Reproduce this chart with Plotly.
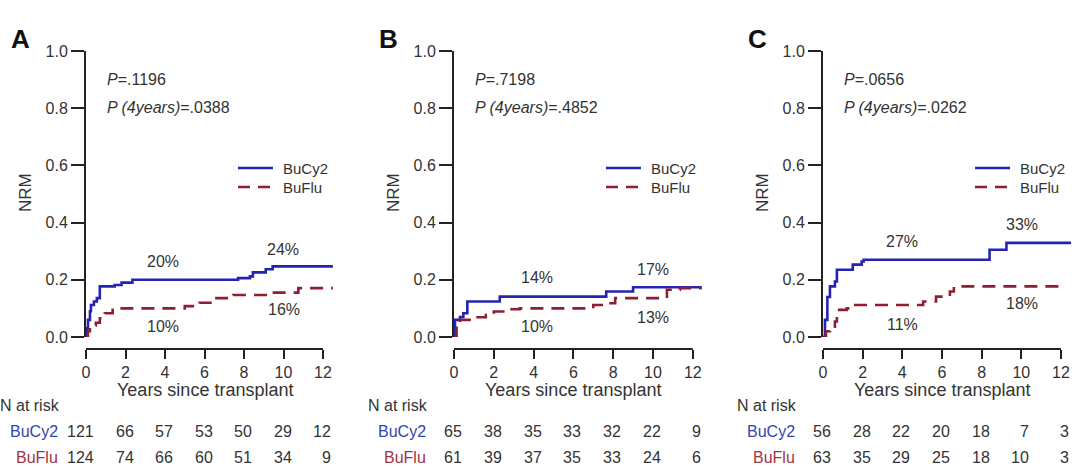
import plotly.graph_objects as go

W, H = 1080, 467
FONT = "Liberation Sans, Arial, sans-serif"
TXT = "#333333"
BLUE = "#2424b4"
RED = "#8c1f30"
BLUE_T = "#3344b0"
RED_T = "#a03444"

# ---------------- data ----------------
panels = ["A", "B", "C"]
groups = ["BuCy2", "BuFlu"]

# Panel A
a_bucy2_t = [0, 0.05, 0.1, 0.2, 0.25, 0.4, 0.55, 0.7, 1.45, 1.8, 2.35, 7.7, 8.3, 8.45, 9.1, 9.45, 12.5]
a_bucy2_y = [0, 0.03, 0.06, 0.09, 0.112, 0.124, 0.136, 0.177, 0.182, 0.19, 0.2, 0.206, 0.212, 0.226, 0.237, 0.247, 0.247]
a_buflu_t = [0, 0.1, 0.2, 0.5, 0.7, 0.95, 1.35, 1.7, 5.0, 5.75, 6.45, 7.45, 9.1, 10.75, 12.5]
a_buflu_y = [0, 0.02, 0.04, 0.05, 0.065, 0.083, 0.095, 0.10, 0.108, 0.12, 0.136, 0.147, 0.155, 0.171, 0.171]

# Panel B
b_bucy2_t = [0, 0.05, 0.3, 0.47, 0.67, 2.3, 7.65, 9.0, 12.45]
b_bucy2_y = [0, 0.06, 0.07, 0.083, 0.124, 0.141, 0.159, 0.174, 0.174]
b_buflu_t = [0, 0.13, 0.3, 1.0, 1.6, 2.0, 2.8, 3.3, 7.0, 7.65, 8.1, 10.7, 11.35, 12.45]
b_buflu_y = [0, 0.048, 0.06, 0.069, 0.077, 0.089, 0.097, 0.10, 0.112, 0.118, 0.136, 0.165, 0.171, 0.171]

# Panel C
c_bucy2_t = [0, 0.1, 0.22, 0.35, 0.6, 0.7, 1.5, 1.95, 2.05, 8.4, 9.25, 12.55]
c_bucy2_y = [0, 0.06, 0.14, 0.177, 0.194, 0.235, 0.253, 0.264, 0.27, 0.305, 0.329, 0.329]
c_buflu_t = [0, 0.15, 0.35, 0.6, 0.7, 1.2, 1.5, 5.05, 5.7, 6.4, 6.6, 12.1]
c_buflu_y = [0, 0.02, 0.036, 0.054, 0.095, 0.10, 0.112, 0.124, 0.141, 0.159, 0.177, 0.177]

p_overall = [".1196", ".7198", ".0656"]
p_4years = [".0388", ".4852", ".0262"]

# percent labels: (text, x years, y value)
a_pct = [("20%", 3.9, 0.263), ("24%", 9.97, 0.305), ("16%", 10.0, 0.095), ("10%", 3.9, 0.035)]
b_pct = [("14%", 4.17, 0.207), ("17%", 10.0, 0.235), ("13%", 10.0, 0.067), ("10%", 4.17, 0.035)]
c_pct = [("27%", 3.98, 0.333), ("33%", 10.03, 0.393), ("18%", 10.03, 0.116), ("11%", 4.0, 0.042)]

risk_times = [0, 2, 4, 6, 8, 10, 12]
a_risk_bucy2 = [121, 66, 57, 53, 50, 29, 12]
a_risk_buflu = [124, 74, 66, 60, 51, 34, 9]
b_risk_bucy2 = [65, 38, 35, 33, 32, 22, 9]
b_risk_buflu = [61, 39, 37, 35, 33, 24, 6]
c_risk_bucy2 = [56, 28, 22, 20, 18, 7, 3]
c_risk_buflu = [63, 35, 29, 25, 18, 10, 3]

x_ticks = [0, 2, 4, 6, 8, 10, 12]
y_ticks = [0, 0.2, 0.4, 0.6, 0.8, 1.0]
y_ticktext = ["0.0", "0.2", "0.4", "0.6", "0.8", "1.0"]

curves = [
    ((a_bucy2_t, a_bucy2_y), (a_buflu_t, a_buflu_y)),
    ((b_bucy2_t, b_bucy2_y), (b_buflu_t, b_buflu_y)),
    ((c_bucy2_t, c_bucy2_y), (c_buflu_t, c_buflu_y)),
]
pcts = [a_pct, b_pct, c_pct]
risks = [(a_risk_bucy2, a_risk_buflu), (b_risk_bucy2, b_risk_buflu), (c_risk_bucy2, c_risk_buflu)]

# ---------------- layout geometry (pixels) ----------------
axis_x0 = [86, 454, 823]        # pixel x of y-axis
px_per_year = [19.75, 19.9, 19.83]
x_max = 12.5
y_top_px, y_bot_px = 51, 337
xaxis_px = 349


def fx(px):
    return px / W


def fy(py):
    return 1 - py / H


fig = go.Figure()
layout = dict(
    template="none",
    width=W, height=H, autosize=False,
    margin=dict(l=0, r=0, t=0, b=0, pad=0, autoexpand=False),
    paper_bgcolor="white", plot_bgcolor="white",
    showlegend=False, font=dict(family=FONT, color=TXT, size=16),
)
annotations = []
shapes = []

for i in range(3):
    n = "" if i == 0 else str(i + 1)
    xa, ya = "x" + n, "y" + n
    x0 = axis_x0[i]
    x1 = x0 + x_max * px_per_year[i]
    layout["xaxis" + n] = dict(
        domain=[fx(x0), fx(x1)], range=[0, x_max], anchor="free", position=fy(xaxis_px),
        showline=False, showgrid=False, zeroline=False, automargin=False,
        ticks="outside", ticklen=9, tickwidth=2, tickcolor="#222",
        tickvals=x_ticks, tickfont=dict(size=16, color=TXT, family=FONT),
    )
    layout["yaxis" + n] = dict(
        domain=[fy(y_bot_px), fy(y_top_px)], range=[0, 1.0], anchor=xa,
        showline=True, linecolor="#222", linewidth=2, showgrid=False, zeroline=False,
        automargin=False,
        ticks="outside", ticklen=13, tickwidth=2, tickcolor="#222",
        tickvals=y_ticks, ticktext=y_ticktext, tickfont=dict(size=16, color=TXT, family=FONT),
    )
    (bt, by), (rt, ry) = curves[i]
    fig.add_trace(go.Scatter(x=bt, y=by, xaxis=xa, yaxis=ya, mode="lines", line_shape="hv",
                             line=dict(color=BLUE, width=2.6), name="BuCy2"))
    fig.add_trace(go.Scatter(x=rt, y=ry, xaxis=xa, yaxis=ya, mode="lines", line_shape="hv",
                             line=dict(color=RED, width=2.6, dash="13px,8px"), name="BuFlu"))

    # x-axis line (offset, spans 0..12)
    shapes.append(dict(type="line", xref=xa, yref="paper", x0=0, x1=12,
                       y0=fy(xaxis_px), y1=fy(xaxis_px), line=dict(color="#222", width=2)))

    # panel letter
    annotations.append(dict(text="<b>%s</b>" % panels[i], xref="paper", yref="paper",
                            x=fx(x0 - 66), y=fy(39), xanchor="center", yanchor="middle",
                            showarrow=False, font=dict(size=26, color="#111", family=FONT)))
    # y title
    annotations.append(dict(text="NRM", xref="paper", yref="paper", x=fx(x0 - 61), y=fy(193),
                            xanchor="center", yanchor="middle", textangle=-90, showarrow=False,
                            font=dict(size=17, color=TXT, family=FONT)))
    # x title
    annotations.append(dict(text="Years since transplant", xref=xa, yref="paper", x=6, y=fy(390),
                            xanchor="center", yanchor="middle", showarrow=False,
                            font=dict(size=18, color=TXT, family=FONT)))
    # p values
    annotations.append(dict(text="<i>P</i>=" + p_overall[i], xref="paper", yref="paper",
                            x=fx(x0 + 19), y=fy(80), xanchor="left", yanchor="middle",
                            showarrow=False, font=dict(size=16, color=TXT, family=FONT)))
    annotations.append(dict(text="<i>P (4years)</i>=" + p_4years[i], xref="paper", yref="paper",
                            x=fx(x0 + 19), y=fy(108), xanchor="left", yanchor="middle",
                            showarrow=False, font=dict(size=16, color=TXT, family=FONT)))
    # legend
    for j, (g, col, dash, ly) in enumerate([("BuCy2", BLUE, "solid", 168), ("BuFlu", RED, "12px,8px", 187)]):
        shapes.append(dict(type="line", xref="paper", yref="paper", x0=fx(x0 + 152), x1=fx(x0 + 187),
                           y0=fy(ly), y1=fy(ly), line=dict(color=col, width=2.6, dash=dash)))
        annotations.append(dict(text=g, xref="paper", yref="paper", x=fx(x0 + 195), y=fy(ly),
                                xanchor="left", yanchor="middle", showarrow=False,
                                font=dict(size=15, color=TXT, family=FONT)))
    # percent labels
    for (t, xv, yv) in pcts[i]:
        annotations.append(dict(text=t, xref=xa, yref=ya, x=xv, y=yv, xanchor="center",
                                yanchor="middle", showarrow=False,
                                font=dict(size=16, color=TXT, family=FONT)))
    # risk table
    annotations.append(dict(text="N at risk", xref="paper", yref="paper", x=fx(x0 - 88), y=fy(405),
                            xanchor="left", yanchor="middle", showarrow=False,
                            font=dict(size=16, color=TXT, family=FONT)))
    for j, (g, col, ry_px) in enumerate([("BuCy2", BLUE_T, 431), ("BuFlu", RED_T, 457)]):
        annotations.append(dict(text=g, xref="paper", yref="paper", x=fx(x0 - 26), y=fy(ry_px),
                                xanchor="right", yanchor="middle", showarrow=False,
                                font=dict(size=16, color=col, family=FONT)))
        for tv, nv in zip(risk_times, risks[i][j]):
            annotations.append(dict(text=str(nv), xref=xa, yref="paper", x=tv, y=fy(ry_px),
                                    xanchor="right", yanchor="middle", xshift=10, showarrow=False,
                                    font=dict(size=16, color=TXT, family=FONT)))

layout["annotations"] = annotations
layout["shapes"] = shapes
fig.update_layout(**layout)
fig.write_html("out.html",
               config={"displayModeBar": False},
               post_script="document.body.style.margin='0';document.body.style.padding='0';"
                           "document.body.style.overflow='hidden';")
